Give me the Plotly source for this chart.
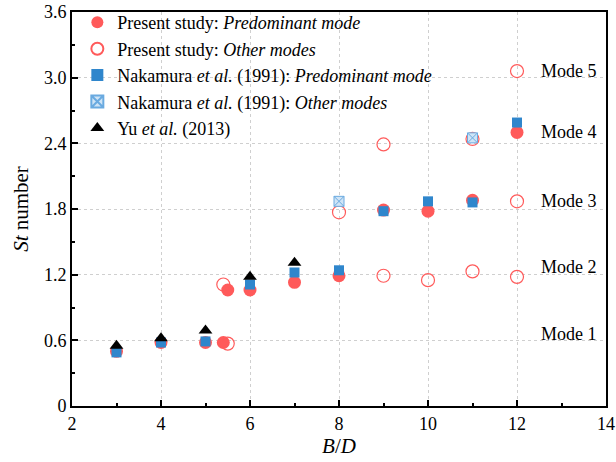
import plotly.graph_objects as go

# Present study: predominant mode
ps_pred_x = [3, 4, 5, 5.4, 5.5, 6, 7, 8, 9, 10, 11, 12]
ps_pred_y = [0.50, 0.58, 0.58, 0.58, 1.06, 1.06, 1.13, 1.19, 1.79, 1.78, 1.88, 2.50]

# Present study: other modes
ps_oth_x = [5.5, 5.4, 8, 9, 9, 10, 11, 11, 12, 12, 12]
ps_oth_y = [0.57, 1.11, 1.77, 1.19, 2.39, 1.15, 1.23, 2.44, 1.18, 1.87, 3.06]

# Nakamura et al. (1991): predominant mode
nk_pred_x = [3, 4, 5, 6, 7, 8, 9, 10, 11, 12]
nk_pred_y = [0.49, 0.58, 0.59, 1.11, 1.22, 1.24, 1.78, 1.87, 1.86, 2.59]

# Nakamura et al. (1991): other modes
nk_oth_x = [8, 11]
nk_oth_y = [1.87, 2.45]

# Yu et al. (2013)
yu_x = [3, 4, 5, 6, 7]
yu_y = [0.55, 0.62, 0.69, 1.18, 1.31]

mode_labels = ["Mode 1", "Mode 2", "Mode 3", "Mode 4", "Mode 5"]
mode_y = [0.66, 1.27, 1.87, 2.50, 3.06]

x_ticks = [2, 4, 6, 8, 10, 12, 14]
y_ticks = [0, 0.6, 1.2, 1.8, 2.4, 3.0, 3.6]
y_tick_text = ["0", "0.6", "1.2", "1.8", "2.4", "3.0", "3.6"]

RED = "#FF5A5A"
BLUE = "#2F86CC"
FONT = "Liberation Serif"

fig = go.Figure()
fig.add_trace(go.Scatter(x=ps_pred_x, y=ps_pred_y, mode="markers",
                         name="Present study: <i>Predominant mode</i>",
                         marker=dict(symbol="circle", size=13, color=RED)))
fig.add_trace(go.Scatter(x=ps_oth_x, y=ps_oth_y, mode="markers",
                         name="Present study: <i>Other modes</i>",
                         marker=dict(symbol="circle-open", size=13, color=RED,
                                     line=dict(width=1.2, color=RED))))
fig.add_trace(go.Scatter(x=nk_pred_x, y=nk_pred_y, mode="markers",
                         name="Nakamura <i>et al.</i> (1991): <i>Predominant mode</i>",
                         marker=dict(symbol="square", size=10, color=BLUE)))
fig.add_trace(go.Scatter(x=nk_oth_x, y=nk_oth_y, mode="markers",
                         name="Nakamura <i>et al.</i> (1991): <i>Other modes</i>",
                         marker=dict(symbol="square-x", size=10, color="#CFE4F6",
                                     line=dict(width=1, color="#6AAAE0"))))
fig.add_trace(go.Scatter(x=yu_x, y=yu_y, mode="markers",
                         name="Yu <i>et al.</i> (2013)",
                         marker=dict(symbol="triangle-up", size=12, color="black")))

for lab, yy in zip(mode_labels, mode_y):
    fig.add_annotation(x=12.5, y=yy, text=lab, showarrow=False, xanchor="left",
                       yanchor="middle", font=dict(family=FONT, size=18, color="black"))

axis_common = dict(showline=True, linecolor="black", linewidth=2, mirror=True,
                   ticks="inside", ticklen=6, tickwidth=1.5, tickcolor="black",
                   showgrid=True, gridcolor="#cfcfcf", griddash="dot", gridwidth=1,
                   zeroline=False, automargin=False,
                   tickfont=dict(family=FONT, size=18, color="black"))

fig.update_xaxes(range=[2, 14], tickvals=x_ticks,
                 minor=dict(ticks="inside", ticklen=3, tickwidth=1.5, dtick=1, tick0=3,
                            showgrid=False, tickcolor="black"),
                 title=dict(text="<i>B</i>/<i>D</i>", font=dict(family=FONT, size=21, color="black"),
                            standoff=4),
                 **axis_common)
fig.update_yaxes(range=[0, 3.6], tickvals=y_ticks, ticktext=y_tick_text,
                 minor=dict(ticks="inside", ticklen=3, tickwidth=1.5, dtick=0.3, tick0=0.3,
                            showgrid=False, tickcolor="black"),
                 title=dict(text="<i>St</i> number", font=dict(family=FONT, size=21, color="black"),
                            standoff=10),
                 **axis_common)

fig.update_layout(width=616, height=462, margin=dict(l=72, r=10, t=12, b=56, autoexpand=False),
                  plot_bgcolor="white", paper_bgcolor="white",
                  font=dict(family=FONT, size=18, color="black"),
                  legend=dict(x=0.01, y=1.02, xanchor="left", yanchor="top",
                              bgcolor="rgba(0,0,0,0)", borderwidth=0,
                              font=dict(family=FONT, size=18), tracegroupgap=0,
                              itemsizing="constant"))

fig.write_html("out.html")
